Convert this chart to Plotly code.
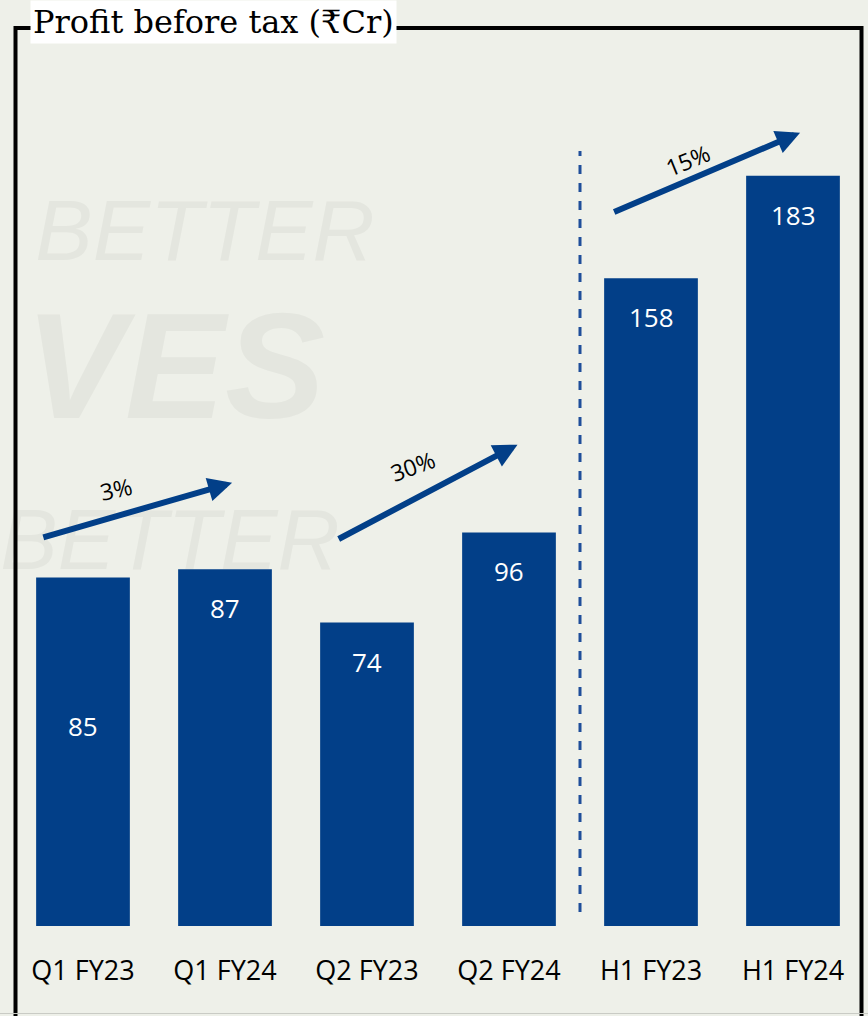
import plotly.graph_objects as go

# ---- data ----
categories = ["Q1 FY23", "Q1 FY24", "Q2 FY23", "Q2 FY24", "H1 FY23", "H1 FY24"]
pbt = [85, 87, 74, 96, 158, 183]
growth_labels = ["3%", "30%", "15%"]
title_text = "Profit before tax (₹Cr)"

BAR = "#023f88"
BG = "#eef0e9"
WM = "#e4e6df"

W, H = 868, 1016
L, R, T, B = 12, 4, 106, 90
PW, PH = W - L - R, H - T - B
YMAX = 200


def px_to_paper_x(px):
    return (px - L) / PW


def px_to_paper_y(py):
    return (H - B - py) / PH


fig = go.Figure()
fig.add_trace(go.Bar(
    x=categories, y=pbt, marker=dict(color=BAR, line=dict(width=0)),
    width=0.66, hoverinfo="x+y",
))

annotations = []
shapes = []

# value labels inside bars
label_shift = [-128, -19, -19, -19, -19, -19]
for i, v in enumerate(pbt):
    annotations.append(dict(
        x=i, y=v, xref="x", yref="y", text=str(v), showarrow=False,
        yanchor="top", yshift=label_shift[i],
        font=dict(family="Open Sans", size=26, color="white"),
    ))

# growth arrows
arrow_tails = [(-0.29, 94.7), (1.79, 94.2), (3.73, 174.0)]
arrow_heads = [(1.05, 108.1), (3.06, 117.4), (5.05, 193.5)]
for (tx, ty), (hx, hy) in zip(arrow_tails, arrow_heads):
    annotations.append(dict(
        x=hx, y=hy, ax=tx, ay=ty, xref="x", yref="y", axref="x", ayref="y",
        text="", showarrow=True, arrowhead=2, arrowsize=0.8, arrowwidth=6,
        arrowcolor=BAR, standoff=0, startstandoff=0,
    ))

growth_pos = [(0.23, 106.6, -12), (2.32, 112.2, -20), (4.26, 186.9, -22)]
for lab, (gx, gy, ang) in zip(growth_labels, growth_pos):
    annotations.append(dict(
        x=gx, y=gy, xref="x", yref="y", text=lab, showarrow=False,
        textangle=ang, font=dict(family="Open Sans", size=23, color="black"),
    ))

# dashed separator
shapes.append(dict(
    type="line", xref="x", yref="y", x0=3.5, x1=3.5, y0=3.4, y1=189,
    line=dict(color="#1f4e9a", width=3, dash="dash"),
))

# frame (open at the bottom)
fx0, fx1 = px_to_paper_x(15.5), px_to_paper_x(861.5)
fy_top, fy_bot = px_to_paper_y(28), px_to_paper_y(1020)
shapes.append(dict(
    type="path", xref="paper", yref="paper",
    path=f"M{fx0},{fy_bot} L{fx0},{fy_top} L{fx1},{fy_top} L{fx1},{fy_bot}",
    line=dict(color="black", width=4),
))
shapes.append(dict(
    type="line", xref="paper", yref="paper",
    x0=px_to_paper_x(0), x1=px_to_paper_x(W),
    y0=px_to_paper_y(1013.5), y1=px_to_paper_y(1013.5),
    line=dict(color="#c9cbc5", width=1),
))

# faint watermark (behind bars)
wm = [
    ("BETTER", 40, 185, 370, 258, 86, "italic", 300),
    ("VES", 15, 292, 335, 412, 150, "italic", 900),
    ("BETTER", 10, 490, 330, 572, 86, "italic", 300),
]
for txt, x0, y0, x1, y1, size, style, weight in wm:
    shapes.append(dict(
        type="rect", xref="paper", yref="paper", layer="below",
        x0=px_to_paper_x(x0), x1=px_to_paper_x(x1),
        y0=px_to_paper_y(y1), y1=px_to_paper_y(y0),
        line=dict(width=0), fillcolor="rgba(0,0,0,0)",
        label=dict(text=txt, textposition="middle center",
                   font=dict(family="Liberation Sans", size=size, color=WM,
                             style=style, weight=weight)),
    ))

# title
annotations.append(dict(
    x=px_to_paper_x(30), y=px_to_paper_y(22), xref="paper", yref="paper",
    xanchor="left", yanchor="middle", text=title_text, showarrow=False,
    bgcolor="white", borderpad=2,
    font=dict(family="DejaVu Serif", size=32, color="black"),
))

fig.update_layout(
    width=W, height=H, margin=dict(l=L, r=R, t=T, b=B),
    paper_bgcolor=BG, plot_bgcolor=BG,
    showlegend=False, bargap=0.34,
    annotations=annotations, shapes=shapes,
    xaxis=dict(
        type="category", range=[-0.5, 5.5], showgrid=False, zeroline=False,
        showline=False, ticks="", ticklabelstandoff=26,
        tickfont=dict(family="Open Sans", size=27, color="black"),
    ),
    yaxis=dict(
        range=[0, YMAX], visible=False, showgrid=False, zeroline=False,
    ),
)

fig.write_html(
    "out.html",
    config={"displayModeBar": False},
    post_script="document.body.style.margin='0';document.body.style.background='%s';" % BG,
)
